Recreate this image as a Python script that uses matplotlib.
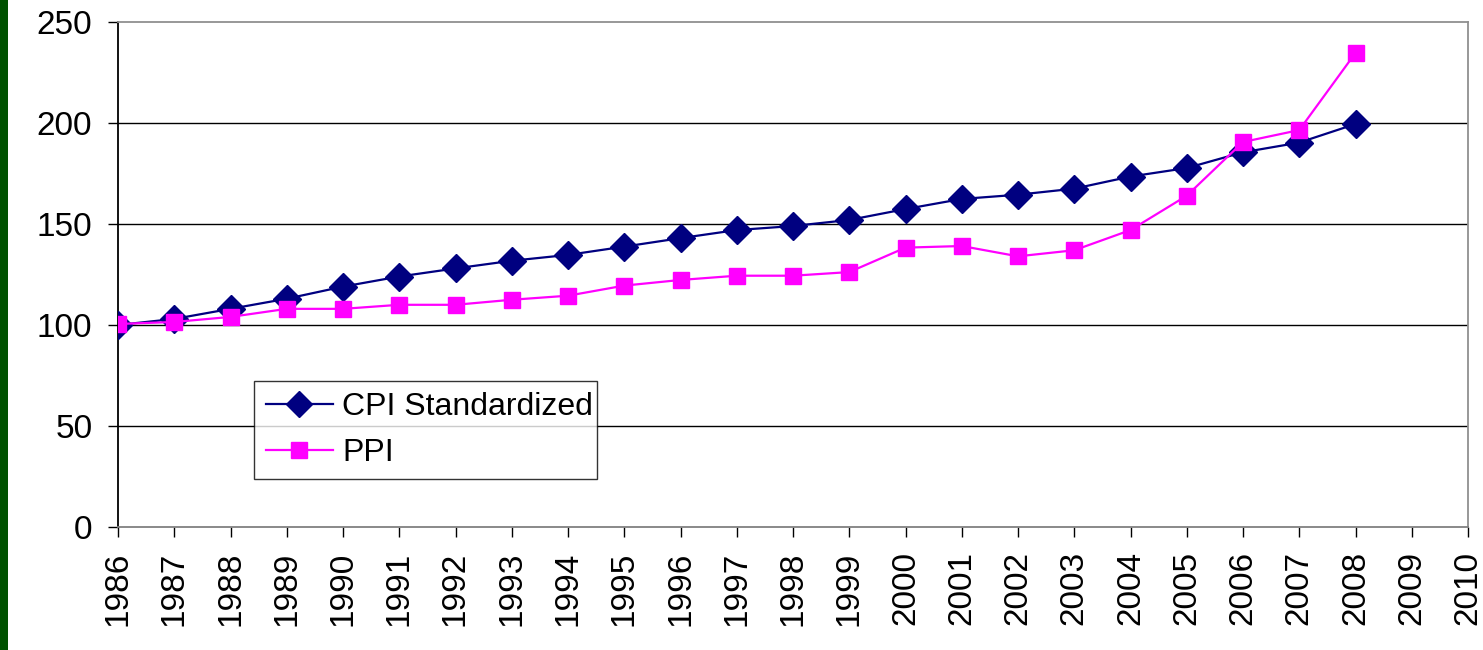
import matplotlib.pyplot as plt
from matplotlib.patches import Rectangle

plt.rcParams['font.family'] = ['Liberation Sans', 'DejaVu Sans']

years = list(range(1986, 2009))
cpi = [100, 103, 108, 113, 119, 124, 128, 131.8, 134.7, 138.8, 143, 147, 149,
       152, 157.4, 162.4, 164.5, 167.5, 173.5, 177.7, 185.5, 190.3, 199.5]
ppi = [100.5, 101.5, 104, 108, 108, 110, 110, 112.5, 114.5, 119.5, 122.3,
       124.4, 124.4, 126.2, 138.3, 139.1, 134, 137, 147, 164, 190.6, 196.5, 234.7]
xticks = list(range(1986, 2011))
yticks = [0, 50, 100, 150, 200, 250]

fig = plt.figure(figsize=(14.83, 6.5), dpi=100)
ax = fig.add_axes([118 / 1483, 1 - 527 / 650, 1350 / 1483, 505 / 650])

# dark green strip down the left edge
fig.patches.append(Rectangle((0, 0), 8 / 1483, 1, transform=fig.transFigure,
                             facecolor='#005200', edgecolor='none'))

ax.plot(years, cpi, color='#000080', lw=1.6, marker='D', markersize=14,
        label='CPI Standardized', zorder=3)
ax.plot(years, ppi, color='#ff00ff', lw=1.6, marker='s', markersize=12,
        label='PPI', zorder=4)

ax.set_xlim(1986, 2010)
ax.set_ylim(0, 250)
ax.set_xticks(xticks)
ax.set_xticklabels([str(y) for y in xticks], rotation=90, fontsize=24)
ax.set_yticks(yticks)
ax.set_yticklabels([str(v) for v in yticks], fontsize=24)
ax.tick_params(axis='both', direction='out', length=7.5, width=1, color='black')
ax.tick_params(axis='y', pad=11)
ax.tick_params(axis='x', pad=10)

for v in yticks[1:-1]:
    ax.axhline(v, color='black', lw=1, zorder=1)

ax.spines['left'].set_color('black')
ax.spines['bottom'].set_color('#808080')
ax.spines['top'].set_color('#909090')
ax.spines['right'].set_color('#909090')
for s in ax.spines.values():
    s.set_linewidth(1.3)

leg = ax.legend(loc='lower left', bbox_to_anchor=(0.101, 0.095, 0.254, 0.19),
                mode='expand', fontsize=23, frameon=True, fancybox=False,
                borderpad=0.35, handlelength=2.1, handletextpad=0.3,
                labelspacing=0.5, borderaxespad=0)
leg.get_frame().set_edgecolor('black')
leg.get_frame().set_linewidth(1)
leg.legend_handles[0].set_markersize(13)
leg.legend_handles[1].set_markersize(11)

fig.savefig('out.png', dpi=100)
